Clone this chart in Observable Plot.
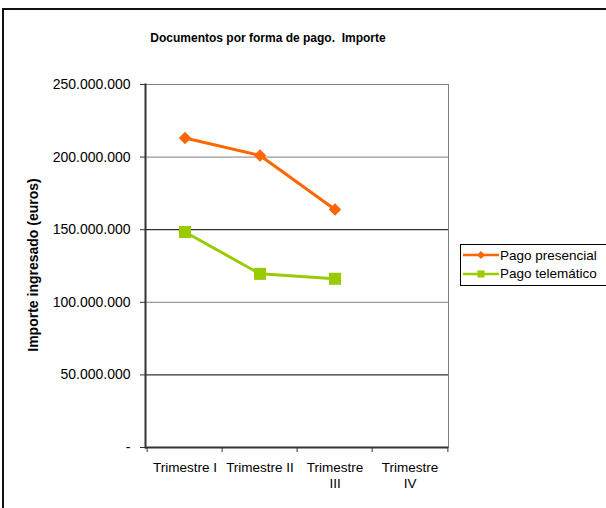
<!DOCTYPE html>
<html><head><meta charset="utf-8">
<script src="https://cdn.jsdelivr.net/npm/d3@7"></script>
<script src="https://cdn.jsdelivr.net/npm/@observablehq/plot@0.6"></script>
<style>
body{margin:0;background:#fff;font-family:"Liberation Sans",Arial,sans-serif;color:#000;}
#wrap{position:relative;width:606px;height:508px;overflow:hidden;background:#fff;}
#chart{position:absolute;left:0;top:0;}
#frame{position:absolute;left:2px;top:8px;width:700px;height:600px;border-left:2px solid #111;border-top:2px solid #111;}
#title{position:absolute;left:0;width:536px;top:30px;text-align:center;font-weight:bold;font-size:12px;line-height:16px;white-space:pre;}
#ylabel{position:absolute;left:33px;top:265px;transform:translate(-50%,-50%) rotate(-90deg);font-weight:bold;font-size:14px;white-space:nowrap;}
#legend{position:absolute;left:460px;top:244px;width:170px;height:42px;border:1px solid #000;box-sizing:border-box;background:#fff;}
.item{position:absolute;left:2px;height:18px;display:flex;align-items:center;font-size:13.5px;white-space:nowrap;}
.item svg{margin-right:1px;}
</style>
</head><body>
<div id="wrap">
  <div id="chart"></div>
  <div id="frame"></div>
  <div id="title"></div>
  <div id="ylabel"></div>
  <div id="legend"></div>
</div>
<script>
const chartTitle = "Documentos por forma de pago.  Importe";
const yLabel = "Importe ingresado (euros)";
const quarters = ["Trimestre I", "Trimestre II", "Trimestre III", "Trimestre IV"];
const quarterLabels = ["Trimestre I", "Trimestre II", "Trimestre\nIII", "Trimestre\nIV"];
const seriesNames = ["Pago presencial", "Pago telemático"];
const seriesColors = ["#FF6600", "#99CC00"];
const seriesSymbols = ["diamond2", "square"];
const presencial = [213200000, 201100000, 163900000];
const telematico = [148400000, 119600000, 116200000];
const yTicks = [0, 50000000, 100000000, 150000000, 200000000, 250000000];
const gridDark = [50000000, 150000000];
const gridGray = [100000000, 200000000, 250000000];

const presData = presencial.map((v, i) => ({quarter: quarters[i], value: v, series: seriesNames[0]}));
const telData = telematico.map((v, i) => ({quarter: quarters[i], value: v, series: seriesNames[1]}));
const labelOf = new Map(quarters.map((q, i) => [q, quarterLabels[i]]));

const W = 606, H = 508, mL = 145, mR = 158, mT = 84, mB = 61;
const bw = (W - mL - mR) / quarters.length;
const fmt = d => d === 0 ? "-" : d3.format(",")(d).replace(/,/g, ".");

const plot = Plot.plot({
  width: W, height: H,
  marginLeft: mL, marginRight: mR, marginTop: mT, marginBottom: mB,
  style: {fontFamily: '"Liberation Sans", Arial, sans-serif', background: "transparent", color: "#000"},
  x: {type: "band", domain: quarters, padding: 0, label: null},
  y: {domain: [0, 250000000], label: null},
  marks: [
    Plot.ruleY(gridGray, {stroke: "#808080", strokeWidth: 1}),
    Plot.ruleY(gridDark, {stroke: "#000", strokeWidth: 1}),
    Plot.frame({anchor: "right", stroke: "#808080", strokeWidth: 1}),
    Plot.lineY(presData, {x: "quarter", y: "value", stroke: seriesColors[0], strokeWidth: 3}),
    Plot.lineY(telData, {x: "quarter", y: "value", stroke: seriesColors[1], strokeWidth: 3}),
    Plot.dot(presData, {x: "quarter", y: "value", symbol: seriesSymbols[0], r: 5.6, fill: seriesColors[0], stroke: "none"}),
    Plot.dot(telData, {x: "quarter", y: "value", symbol: seriesSymbols[1], r: 6.8, fill: seriesColors[1], stroke: "none"}),
    Plot.axisY({ticks: yTicks, tickFormat: fmt, tickSize: 5, tickPadding: 10, fontSize: 14, stroke: "#333", label: null}),
    Plot.axisX({tickSize: 0, tickPadding: 12.5, tickFormat: d => labelOf.get(d), fontSize: 13.5, lineHeight: 1.2, label: null}),
    Plot.axisX({tickSize: 5, dx: -bw / 2, text: null, stroke: "#333", label: null}),
    Plot.axisX({ticks: [quarters[quarters.length - 1]], tickSize: 5, dx: bw / 2, text: null, stroke: "#333", label: null}),
    Plot.frame({anchor: "left", stroke: "#333", strokeWidth: 2}),
    Plot.ruleY([0], {stroke: "#333", strokeWidth: 2})
  ]
});
document.getElementById("chart").appendChild(plot);
document.getElementById("title").textContent = chartTitle;
document.getElementById("ylabel").textContent = yLabel;

const legend = document.getElementById("legend");
const symPaths = [d3.symbol(d3.symbolDiamond2, 40)(), d3.symbol(d3.symbolSquare, 50)()];
seriesNames.forEach((name, i) => {
  const it = document.createElement("div");
  it.className = "item";
  it.style.top = (1 + i * 18.6) + "px";
  it.innerHTML = `<svg width="36" height="12" viewBox="0 0 36 12"><line x1="0" x2="36" y1="6" y2="6" stroke="${seriesColors[i]}" stroke-width="2.5"/><path d="${symPaths[i]}" transform="translate(18,6)" fill="${seriesColors[i]}"/></svg><span>${name}</span>`;
  legend.appendChild(it);
});
</script>
</body></html>
